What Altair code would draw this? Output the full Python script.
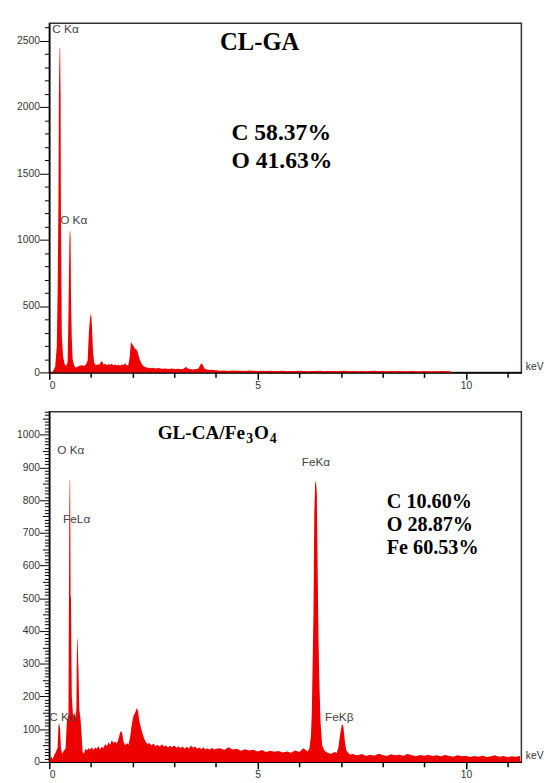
import altair as alt
import pandas as pd

# ---------------- data: CL-GA spectrum (keV, counts) ----------------
top_energy = [0.00, 0.08, 0.14, 0.18, 0.20, 0.22, 0.23, 0.24, 0.25, 0.26, 0.27, 0.28, 0.30, 0.33, 0.37,
              0.41, 0.44, 0.46, 0.48, 0.49, 0.50, 0.51, 0.52, 0.54, 0.56, 0.59, 0.63, 0.68, 0.73, 0.78,
              0.83, 0.88, 0.92, 0.95, 0.97, 0.99, 1.01, 1.03, 1.05, 1.08, 1.12, 1.16, 1.20, 1.24,
              1.27, 1.30, 1.34, 1.38, 1.42, 1.46, 1.50, 1.54, 1.58, 1.62, 1.66, 1.70, 1.74, 1.78,
              1.82, 1.86, 1.90, 1.93, 1.96, 1.99, 2.02, 2.05, 2.08, 2.11, 2.14, 2.17, 2.21, 2.25,
              2.30, 2.36, 2.42, 2.48, 2.55, 2.62, 2.70, 2.78, 2.86, 2.94, 3.02, 3.10, 3.18, 3.24,
              3.28, 3.32, 3.38, 3.45, 3.52, 3.58, 3.62, 3.65, 3.68, 3.72, 3.78, 3.85, 3.92,
              4.0, 4.1, 4.2, 4.3, 4.4, 4.5, 4.6, 4.7, 4.8, 4.9,
              5.0, 5.1, 5.2, 5.3, 5.4, 5.5, 5.6, 5.7, 5.8, 5.9,
              6.0, 6.1, 6.2, 6.3, 6.4, 6.5, 6.6, 6.7, 6.8, 6.9,
              7.0, 7.1, 7.2, 7.3, 7.4, 7.5, 7.6, 7.7, 7.8, 7.9,
              8.0, 8.1, 8.2, 8.3, 8.4, 8.5, 8.6, 8.7, 8.8, 8.9,
              9.0, 9.1, 9.2, 9.3, 9.4, 9.5, 9.6, 9.7]
top_counts = [0, 5, 40, 200, 600, 1300, 2080, 2300, 2450, 2440, 2080, 1100, 280, 120, 60,
              50, 80, 450, 930, 1060, 1070, 1000, 580, 250, 100, 60, 35, 45, 50, 55,
              48, 60, 90, 300, 380, 440, 420, 300, 150, 70, 55, 62, 58, 80,
              85, 60, 65, 55, 62, 58, 66, 55, 60, 52, 58, 50, 62, 55,
              70, 52, 60, 120, 230, 215, 200, 180, 175, 165, 130, 95, 70, 50,
              40, 36, 32, 35, 30, 33, 28, 30, 26, 29, 25, 28, 24, 32,
              42, 30, 25, 22, 26, 30, 55, 68, 60, 30, 22, 18, 20,
              16, 13, 15, 11, 14, 12, 13, 10, 14, 12,
              11, 13, 10, 12, 11, 10, 13, 9, 11, 10,
              12, 10, 9, 11, 10, 12, 9, 10, 11, 9,
              10, 12, 9, 10, 8, 11, 9, 10, 12, 9,
              10, 8, 11, 9, 10, 8, 9, 10, 8, 9,
              10, 8, 9, 8, 10, 8, 9, 0]

# ---------------- data: GL-CA/Fe3O4 spectrum (keV, counts) ----------------
bot_energy = [0.00, 0.04, 0.08, 0.12, 0.16, 0.20, 0.22, 0.24, 0.26, 0.28, 0.31, 0.35, 0.39, 0.42,
              0.44, 0.46, 0.47, 0.48, 0.49, 0.50, 0.51, 0.52, 0.54, 0.57, 0.60, 0.63, 0.65, 0.66,
              0.67, 0.68, 0.69, 0.70, 0.72, 0.75, 0.78, 0.80, 0.83, 0.87, 0.90, 0.94, 0.98, 1.02,
              1.06, 1.10, 1.14, 1.18, 1.22, 1.26, 1.30, 1.34, 1.38, 1.42, 1.46, 1.50, 1.54, 1.58,
              1.62, 1.66, 1.69, 1.72, 1.75, 1.78, 1.82, 1.86, 1.90, 1.94, 1.98, 2.02, 2.06, 2.10,
              2.13, 2.16, 2.20, 2.24, 2.28, 2.32, 2.36, 2.40, 2.45, 2.50, 2.55, 2.60, 2.65, 2.70,
              2.75, 2.80, 2.85, 2.90, 2.95, 3.00, 3.05, 3.10, 3.15, 3.20, 3.25, 3.30, 3.35, 3.40,
              3.45, 3.50, 3.55, 3.60, 3.65, 3.70, 3.75, 3.80, 3.85, 3.90, 3.95, 4.00,
              4.1, 4.2, 4.3, 4.4, 4.5, 4.6, 4.7, 4.8, 4.9, 5.0, 5.1,
              5.2, 5.3, 5.4, 5.5, 5.6, 5.7, 5.8, 5.9, 6.0, 6.1, 6.2,
              6.24, 6.28, 6.30, 6.32, 6.34, 6.36, 6.38, 6.40, 6.42, 6.44, 6.46, 6.48, 6.51, 6.55,
              6.60, 6.68, 6.76, 6.84, 6.90, 6.94, 6.97, 7.00, 7.02, 7.04, 7.06, 7.08, 7.10, 7.13,
              7.17, 7.22, 7.28, 7.34,
              7.4, 7.5, 7.6, 7.7, 7.8, 7.9, 8.0, 8.1, 8.2, 8.3,
              8.4, 8.5, 8.6, 8.7, 8.8, 8.9, 9.0, 9.1, 9.2, 9.3,
              9.4, 9.5, 9.6, 9.7, 9.8, 9.9, 10.0, 10.1, 10.2, 10.3,
              10.4, 10.5, 10.6, 10.7, 10.8, 10.9, 11.0, 11.1, 11.2, 11.3]
bot_counts = [0, 18, 8, 22, 30, 45, 110, 118, 100, 40, 25, 35, 40, 120,
              135, 145, 450, 760, 860, 860, 510, 500, 200, 140, 150, 135, 160, 320,
              380, 370, 320, 280, 160, 130, 70, 30, 25, 40, 35, 42, 38, 45,
              36, 44, 40, 48, 38, 46, 42, 55, 48, 60, 52, 66, 58, 62,
              56, 70, 85, 95, 88, 62, 50, 58, 52, 75, 115, 140, 150, 165,
              155, 125, 105, 85, 70, 60, 55, 58, 50, 56, 48, 52, 46, 54,
              47, 50, 44, 49, 45, 50, 43, 48, 42, 47, 40, 46, 41, 50,
              43, 47, 40, 44, 39, 45, 38, 42, 37, 43, 38, 40,
              42, 36, 45, 38, 40, 34, 39, 35, 37, 32, 36,
              30, 34, 31, 33, 29, 32, 28, 35, 30, 42, 32,
              40, 80, 150, 300, 450, 760, 850, 860, 820, 600, 380, 250, 120, 50,
              35, 28, 24, 30, 28, 45, 75, 100, 112, 115, 105, 80, 55, 35,
              28, 22, 25, 21,
              20, 24, 18, 22, 19, 25, 21, 18, 23, 20,
              22, 19, 24, 20, 17, 21, 19, 22, 18, 20,
              17, 21, 18, 16, 20, 17, 19, 15, 18, 16,
              19, 15, 17, 20, 16, 18, 15, 17, 16, 18]

# ---------------- annotation text ----------------
top_peak_labels = ["C K\u03b1", "O K\u03b1"]
top_peak_x = [0.07, 0.26]
top_peak_y = [2585, 1148]
top_title = "CL-GA"
top_comp = ["C 58.37%", "O 41.63%"]
top_comp_y = [1800, 1593]

bot_peak_labels = ["O K\u03b1", "FeL\u03b1", "C K\u03b1", "FeK\u03b1", "FeK\u03b2"]
bot_peak_x = [0.19, 0.33, 0.0, 6.40, 6.96]
bot_peak_y = [953, 742, 138, 917, 138]
bot_peak_align = ["left", "left", "left", "center", "center"]
bot_comp = ["C 10.60%", "O 28.87%", "Fe 60.53%"]
bot_comp_y = [794, 724, 652]

X_MAX = 11.33
W = 480
RED = "#ee0000"
SANS = "Liberation Sans"
SERIF = "Liberation Serif"

X_AXIS = alt.Axis(
    values=list(range(0, 12)),
    labelExpr="datum.value % 5 === 0 ? datum.label : ''",
    labelOverlap=False,
    tickSize={"condition": {"test": "datum.value % 5 === 0", "value": 7}, "value": 5},
    tickColor="black", domainColor="black", domainWidth=1.5, tickWidth=1.5,
    labelFont=SANS, labelFontSize=10.5, labelColor="#333", labelPadding=1,
    grid=False, title="keV", titleX=W + 4, titleY=-6, titleAlign="left",
    titleBaseline="middle", titleAngle=0, titleFont=SANS, titleFontSize=10.5,
    titleFontWeight="normal", titleColor="#333",
)
X_SCALE = alt.Scale(domain=[0, X_MAX], nice=False, zero=False)


def y_axis(ymax, step, major, mid=None):
    vals = list(range(0, ymax + 1, step))
    if mid:
        ts = {"condition": [{"test": f"datum.value % {major} === 0", "value": 10},
                            {"test": f"datum.value % {mid} === 0", "value": 7}], "value": 5}
    else:
        ts = {"condition": {"test": f"datum.value % {major} === 0", "value": 10}, "value": 5}
    return alt.Axis(
        values=vals, format="d",
        labelExpr=f"datum.value % {major} === 0 ? datum.label : ''",
        labelOverlap=False,
        tickSize=ts, tickColor="black", domainColor="black", domainWidth=1.5,
        labelFont=SANS, labelFontSize=10.5, labelColor="#333", labelPadding=0,
        grid=False, title=None,
    )


def panel(df, ymax, yaxis, height, extra_layers):
    xe = alt.X("e:Q", scale=X_SCALE, axis=X_AXIS)
    ye = alt.Y("c:Q", scale=alt.Scale(domain=[0, ymax], nice=False), axis=yaxis)
    area = alt.Chart(df).mark_area(color=RED, interpolate="linear").encode(x=xe, y=ye)
    layers = [area]
    for tdf, kw in extra_layers:
        layers.append(alt.Chart(tdf).mark_text(**kw).encode(x=xe, y=ye, text="t:N"))
    return alt.layer(*layers).properties(width=W, height=height)


# ---------------- top panel ----------------
top_df = pd.DataFrame({"e": top_energy, "c": top_counts})
top_layers = [
    (pd.DataFrame({"e": top_peak_x, "c": top_peak_y, "t": top_peak_labels}),
     dict(align="left", baseline="middle", font=SANS, fontSize=12, color="#444")),
    (pd.DataFrame({"e": [5.05], "c": [2489], "t": [top_title]}),
     dict(align="center", baseline="middle", font=SERIF, fontSize=25, fontWeight="bold",
          color="black")),
    (pd.DataFrame({"e": [4.37] * 2, "c": top_comp_y, "t": top_comp}),
     dict(align="left", baseline="middle", font=SERIF, fontSize=24, fontWeight="bold",
          color="black")),
]
top = panel(top_df, 2630, y_axis(2630, 100, 500), 355, top_layers)

# ---------------- bottom panel ----------------
bot_df = pd.DataFrame({"e": bot_energy, "c": bot_counts})
bot_layers = []
for lab, ex, cy, al in zip(bot_peak_labels, bot_peak_x, bot_peak_y, bot_peak_align):
    bot_layers.append((pd.DataFrame({"e": [ex], "c": [cy], "t": [lab]}),
                       dict(align=al, baseline="middle", font=SANS, fontSize=12, color="#444")))
title_parts = [("GL-CA/Fe", 0, 0, 19.5), ("3", 90, 6, 14), ("O", 98, 0, 19.5), ("4", 114, 6, 14)]
for txt, dx, dy, fs in title_parts:
    bot_layers.append((pd.DataFrame({"e": [2.60], "c": [1004], "t": [txt]}),
                       dict(align="left", baseline="middle", font=SERIF, fontSize=fs,
                            fontWeight="bold", color="black", dx=dx, dy=dy)))
bot_layers.append((pd.DataFrame({"e": [8.10] * 3, "c": bot_comp_y, "t": bot_comp}),
                   dict(align="left", baseline="middle", font=SERIF, fontSize=20.5,
                        fontWeight="bold", color="black")))
bot = panel(bot_df, 1070, y_axis(1070, 10, 100, 50), 356, bot_layers)

chart = (
    alt.vconcat(top, bot, spacing=14)
    .properties(padding={"left": 7, "right": 0, "top": 7, "bottom": 0}, background="white")
    .configure_view(stroke="#333", strokeWidth=1.5)
    .configure_axis(labelOverlap=False)
)

chart.save("out.html", embed_options={"renderer": "svg", "actions": False})
